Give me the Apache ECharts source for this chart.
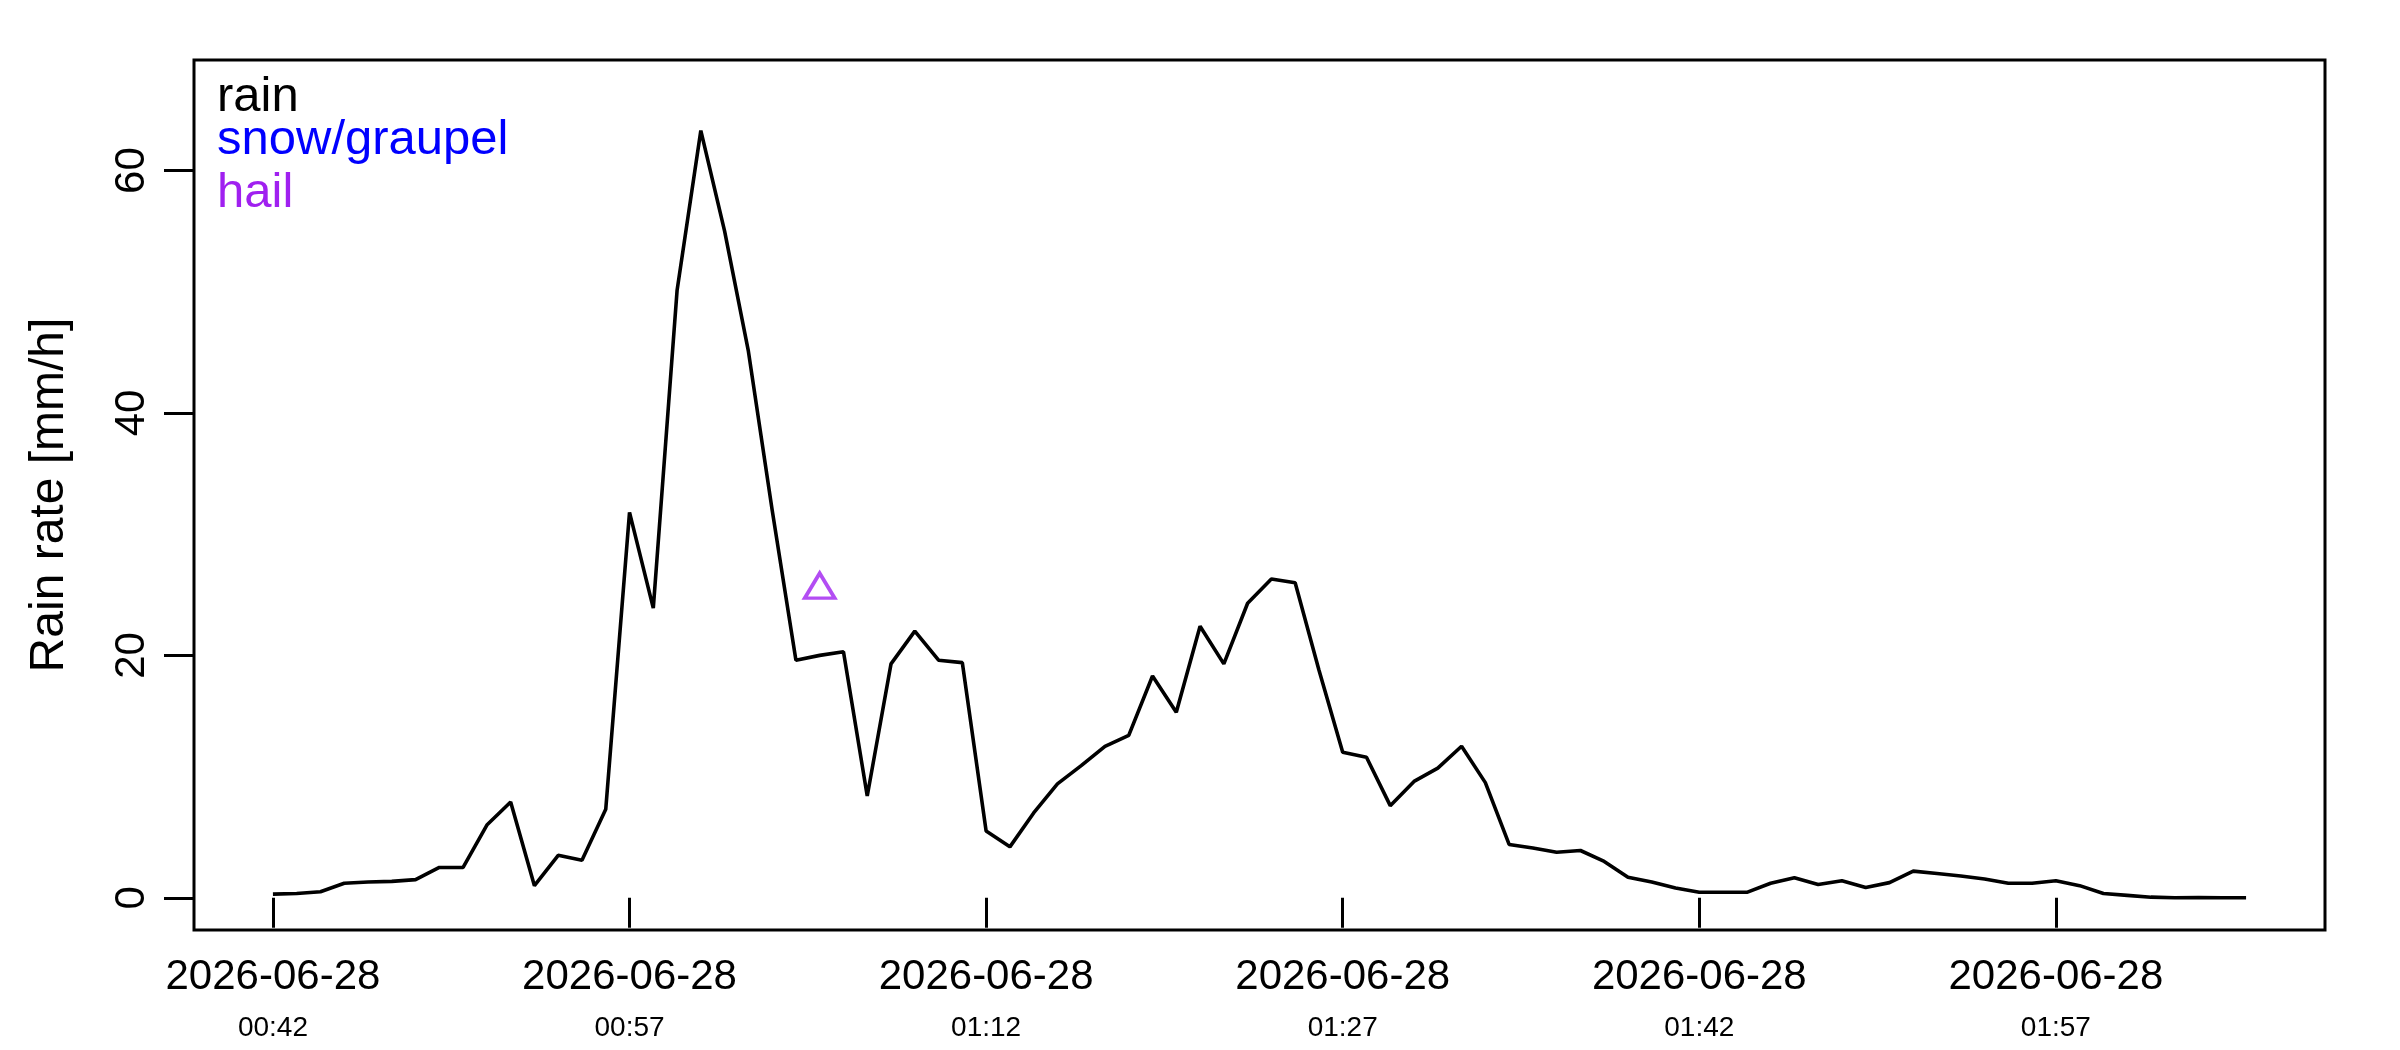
<!DOCTYPE html>
<html>
<head>
<meta charset="utf-8">
<script src="https://cdn.jsdelivr.net/npm/echarts@6/dist/echarts.min.js"></script>
<style>
  html, body { margin: 0; padding: 0; background: #ffffff; }
  #chart { width: 2400px; height: 1050px; }
</style>
</head>
<body>
<div id="chart"></div>
<script>
// ---- data ----
const startMinute = 42;            // first sample: 2026-06-28 00:42, one sample per minute
const rainRate = [
  0.3, 0.35, 0.5, 1.2, 1.3, 1.35, 1.5, 2.5, 2.5, 6.0,
  7.9, 1.0, 3.5, 3.1, 7.3, 31.8, 23.9, 50.1, 63.3, 55.0,
  45.1, 32.0, 19.6, 20.0, 20.3, 8.4, 19.3, 22.0, 19.6, 19.4,
  5.5, 4.2, 7.0, 9.4, 10.9, 12.5, 13.4, 18.3, 15.3, 22.4,
  19.3, 24.3, 26.3, 26.0, 18.8, 12.0, 11.6, 7.6, 9.6, 10.7,
  12.5, 9.5, 4.4, 4.1, 3.75, 3.9, 3.0, 1.7, 1.3, 0.8,
  0.45, 0.45, 0.45, 1.2, 1.65, 1.1, 1.4, 0.85, 1.25, 2.2,
  2.0, 1.8, 1.55, 1.2, 1.2, 1.4, 1.0, 0.35, 0.2, 0.05,
  0.0, 0.02, 0.0, 0.0
];
const hailMinute = [65];           // 01:05
const hailRate = [25.5];
const tickMinutes = [42, 57, 72, 87, 102, 117];
const tickDates = ['2026-06-28', '2026-06-28', '2026-06-28', '2026-06-28', '2026-06-28', '2026-06-28'];
const tickTimes = ['00:42', '00:57', '01:12', '01:27', '01:42', '01:57'];
const yTicks = [0, 20, 40, 60];
const legendNames = ['rain', 'snow/graupel', 'hail'];
const legendColors = ['#000000', '#0000FF', '#A020F0'];

// ---- build ----
const rainData = rainRate.map((v, i) => [startMinute + i, v]);
const hailData = hailRate.map((v, i) => [hailMinute[i], v]);
const xMin = startMinute - 0.04 * (rainRate.length - 1);
const xMax = startMinute + (rainRate.length - 1) * 1.04;
const yTop = 63.3 * 1.05;
const yMin = -0.04 * yTop, yMax = yTop * 1.04;
const FONT = 'Liberation Sans, Arial, Helvetica, sans-serif';

const chart = echarts.init(document.getElementById('chart'));
const legendBaselines = [110, 153, 206];

chart.setOption({
  animation: false,
  backgroundColor: '#ffffff',
  grid: { left: 194, right: 75, top: 60, bottom: 120, show: true, borderColor: '#000', borderWidth: 3, backgroundColor: 'transparent' },
  xAxis: [
    {
      type: 'value', min: xMin, max: xMax, position: 'bottom',
      splitLine: { show: false }, axisLine: { show: false },
      axisTick: { show: true, inside: false, length: 30, lineStyle: { color: '#000', width: 3 }, customValues: tickMinutes },
      axisLabel: {
        show: true, margin: 26, color: '#000', fontFamily: FONT, fontSize: 42,
        customValues: tickMinutes,
        formatter: v => { const i = tickMinutes.indexOf(Math.round(v)); return i >= 0 ? tickDates[i] : ''; }
      }
    },
    {
      type: 'value', min: xMin, max: xMax, position: 'bottom', offset: 0,
      splitLine: { show: false }, axisLine: { show: false }, axisTick: { show: false },
      axisLabel: {
        show: true, margin: 84, color: '#000', fontFamily: FONT, fontSize: 28,
        customValues: tickMinutes,
        formatter: v => { const i = tickMinutes.indexOf(Math.round(v)); return i >= 0 ? tickTimes[i] : ''; }
      }
    }
  ],
  yAxis: {
    type: 'value', min: yMin, max: yMax,
    splitLine: { show: false }, axisLine: { show: false },
    axisTick: { show: true, inside: false, length: 30, lineStyle: { color: '#000', width: 3 }, customValues: yTicks },
    axisLabel: { show: true, rotate: 90, margin: 41, color: '#000', fontFamily: FONT, fontSize: 42, customValues: yTicks }
  },
  series: [
    {
      name: 'rain', type: 'line', xAxisIndex: 0, data: rainData,
      showSymbol: false, symbol: 'none',
      lineStyle: { color: '#000', width: 3.6 }, z: 3
    },
    {
      name: 'hail', type: 'scatter', xAxisIndex: 0, data: hailData,
      symbol: 'triangle', symbolSize: [30, 25], symbolOffset: [0, -3],
      itemStyle: { color: 'rgba(0,0,0,0)', borderColor: '#A020F0', borderWidth: 3.6 }, z: 4
    }
  ],
  graphic: [
    {
      type: 'text', x: 50, y: 495, rotation: Math.PI / 2,
      style: { text: 'Rain rate [mm/h]', fill: '#000', font: '48px ' + FONT, align: 'center', verticalAlign: 'middle' }
    }
  ].concat(legendNames.map((n, i) => ({
    type: 'text', x: 217, y: legendBaselines[i] - 13,
    style: { text: n, fill: legendColors[i], font: '49px ' + FONT, align: 'left', verticalAlign: 'middle' }
  })))
});
</script>
</body>
</html>
